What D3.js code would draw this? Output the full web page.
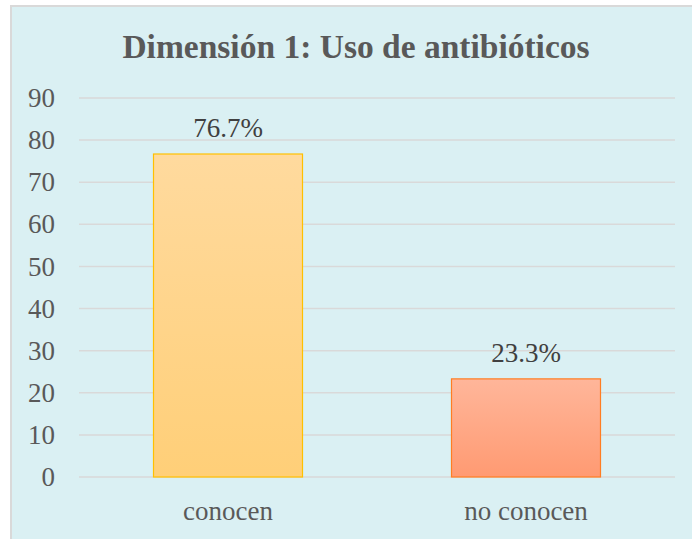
<!DOCTYPE html>
<html>
<head>
<meta charset="utf-8">
<script src="https://cdn.jsdelivr.net/npm/d3@7"></script>
<style>
  body { margin: 0; background: #fff; }
  svg { display: block; }
  svg text { font-family: "Liberation Serif", "Times New Roman", Times, "DejaVu Serif", serif; }
</style>
</head>
<body>
<div id="chart"></div>
<script>
// datos del gráfico
const categories = ["conocen", "no conocen"];
const values = [76.7, 23.3];
const valueLabels = ["76.7%", "23.3%"];
const yTicks = [0, 10, 20, 30, 40, 50, 60, 70, 80, 90];

const width = 692, height = 539;
const plotLeft = 79, plotRight = 675, plotTop = 98, plotBottom = 477;

const svg = d3
  .select("#chart")
  .append("svg")
  .attr("width", width)
  .attr("height", height);

// fondo del área del gráfico
svg
  .append("rect")
  .attr("x", 11)
  .attr("y", 6)
  .attr("width", width)
  .attr("height", height)
  .attr("fill", "#DAF0F3")
  .attr("stroke", "#D9D9D9")
  .attr("stroke-width", 2);

const defs = svg.append("defs");
const gradients = [
  { id: "g0", top: "#FFDA9E", bottom: "#FFCF78" },
  { id: "g1", top: "#FFB69A", bottom: "#FF9A72" },
];
gradients.forEach((g) => {
  const lg = defs
    .append("linearGradient")
    .attr("id", g.id)
    .attr("x1", 0).attr("y1", 0)
    .attr("x2", 0).attr("y2", 1);
  lg.append("stop").attr("offset", "0%").attr("stop-color", g.top);
  lg.append("stop").attr("offset", "100%").attr("stop-color", g.bottom);
});
const strokes = ["#FFC000", "#FF7D22"];

const x = d3
  .scaleBand()
  .domain(categories)
  .range([plotLeft, plotRight])
  .paddingInner(0.5)
  .paddingOuter(0.25);

const y = d3.scaleLinear().domain([0, 90]).range([plotBottom, plotTop]);

// líneas de cuadrícula
svg
  .append("g")
  .selectAll("line")
  .data(yTicks)
  .enter()
  .append("line")
  .attr("x1", plotLeft)
  .attr("x2", plotRight)
  .attr("y1", (d) => y(d))
  .attr("y2", (d) => y(d))
  .attr("stroke", "#D9D9D9")
  .attr("stroke-width", 1.5);

// eje Y
const yAxis = svg
  .append("g")
  .attr("transform", `translate(${plotLeft - 20}, 0)`)
  .call(d3.axisLeft(y).tickValues(yTicks).tickSize(0).tickPadding(4));
yAxis.select(".domain").remove();
yAxis
  .selectAll("text")
  .style("font-size", "27px")
  .attr("fill", "#595959");

// barras
categories.forEach((c, i) => {
  svg
    .append("rect")
    .attr("x", x(c))
    .attr("y", y(values[i]))
    .attr("width", x.bandwidth())
    .attr("height", y(0) - y(values[i]))
    .attr("fill", `url(#g${i})`)
    .attr("stroke", strokes[i])
    .attr("stroke-width", 1.2);

  svg
    .append("text")
    .attr("x", x(c) + x.bandwidth() / 2)
    .attr("y", y(values[i]) - 17)
    .attr("text-anchor", "middle")
    .style("font-size", "27px")
    .attr("fill", "#404040")
    .text(valueLabels[i]);
});

// eje X
const xAxis = svg
  .append("g")
  .attr("transform", `translate(0, ${plotBottom})`)
  .call(d3.axisBottom(x).tickSize(0).tickPadding(24));
xAxis.select(".domain").remove();
xAxis
  .selectAll("text")
  .style("font-size", "27px")
  .attr("fill", "#595959");

// título
svg
  .append("text")
  .attr("x", 356)
  .attr("y", 58)
  .attr("text-anchor", "middle")
  .style("font-weight", "bold")
  .style("font-size", "33.5px")
  .attr("fill", "#595959")
  .text("Dimensión 1: Uso de antibióticos");
</script>
</body>
</html>
